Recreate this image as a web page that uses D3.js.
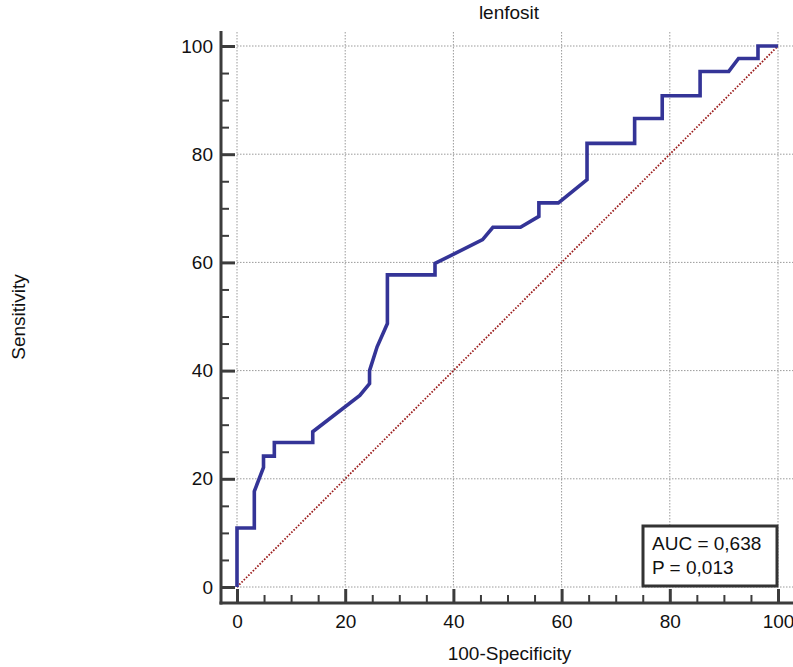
<!DOCTYPE html>
<html>
<head>
<meta charset="utf-8">
<script src="https://cdn.jsdelivr.net/npm/d3@7"></script>
<style>
  html, body { margin: 0; padding: 0; background: #fff; }
  svg text { font-family: "Liberation Sans", Arial, sans-serif; fill: #111; }
</style>
</head>
<body>
<svg id="chart" width="793" height="667"></svg>
<script>
// ROC curve for "lenfosit": 100-Specificity (x) vs Sensitivity (y)
const rocFpr = [0, 0, 3.2, 3.2, 4.9, 4.9, 6.9, 6.9, 14.0, 14.0, 22.7, 24.5, 24.5, 25.9, 27.8, 27.8,
  36.6, 36.6, 45.4, 47.3, 52.4, 55.8, 55.8, 59.4, 64.7, 64.7, 73.5, 73.5, 78.6, 78.6, 85.6, 85.6,
  90.9, 92.7, 96.3, 96.3, 100];
const rocTpr = [0, 10.9, 10.9, 17.7, 22.1, 24.2, 24.2, 26.7, 26.7, 28.7, 35.4, 37.6, 40.0, 44.4, 48.7, 57.7,
  57.7, 59.8, 64.2, 66.5, 66.5, 68.5, 71.0, 71.0, 75.3, 82.0, 82.0, 86.6, 86.6, 90.8, 90.8, 95.3,
  95.3, 97.7, 97.7, 100, 100];
const majorTicks = [0, 20, 40, 60, 80, 100];
const minorTicks = [5, 10, 15, 25, 30, 35, 45, 50, 55, 65, 70, 75, 85, 90, 95];
const chartTitle = "lenfosit";
const xTitle = "100-Specificity";
const yTitle = "Sensitivity";
const statsLines = ["AUC = 0,638", "P = 0,013"];

const W = 793, H = 667;
const svg = d3.select("#chart");

const x = d3.scaleLinear().domain([0, 100]).range([237, 778]);
const y = d3.scaleLinear().domain([0, 100]).range([587, 46]);

const axisX = 221;   // left axis position
const axisY = 603;   // bottom axis position
const topEdge = 31;

// dotted grid
const grid = svg.append("g");
grid.selectAll("line.h").data(majorTicks).join("line")
  .attr("x1", x(0)).attr("x2", W)
  .attr("y1", d => y(d)).attr("y2", d => y(d))
  .attr("stroke", "#9a9a9a").attr("stroke-width", 1).attr("stroke-dasharray", "1.5,1.5");
grid.selectAll("line.v").data(majorTicks).join("line")
  .attr("x1", d => x(d)).attr("x2", d => x(d))
  .attr("y1", topEdge + 1).attr("y2", y(0))
  .attr("stroke", "#9a9a9a").attr("stroke-width", 1).attr("stroke-dasharray", "1.5,1.5");

// reference diagonal
svg.append("line")
  .attr("x1", x(0)).attr("y1", y(0)).attr("x2", x(100)).attr("y2", y(100))
  .attr("stroke", "#9b1c1c").attr("stroke-width", 1.8).attr("stroke-dasharray", "1.6,1.6");

// ROC curve
const pts = rocFpr.map((f, i) => [f, rocTpr[i]]);
svg.append("path")
  .datum(pts)
  .attr("fill", "none")
  .attr("stroke", "#343497")
  .attr("stroke-width", 3.6)
  .attr("stroke-linejoin", "miter")
  .attr("d", d3.line().x(d => x(d[0])).y(d => y(d[1])));

// axes
const axisColor = "#3c3c3c";
function styleAxis(g, w) {
  g.select(".domain").remove();
  g.selectAll(".tick line").attr("stroke", axisColor).attr("stroke-width", w);
  g.selectAll(".tick text").attr("font-size", 19).attr("fill", "#111")
    .attr("font-family", '"Liberation Sans", Arial, sans-serif');
}

const yMajor = svg.append("g").attr("transform", `translate(${axisX},0)`)
  .call(d3.axisLeft(y).tickValues(majorTicks).tickSizeInner(-14).tickSizeOuter(0).tickPadding(8));
styleAxis(yMajor, 3);
const yMinor = svg.append("g").attr("transform", `translate(${axisX},0)`)
  .call(d3.axisLeft(y).tickValues(minorTicks).tickSizeInner(-8).tickSizeOuter(0).tickFormat(""));
styleAxis(yMinor, 2);

const xMajor = svg.append("g").attr("transform", `translate(0,${axisY})`)
  .call(d3.axisBottom(x).tickValues(majorTicks).tickSizeInner(-14).tickSizeOuter(0).tickPadding(12));
styleAxis(xMajor, 3);
const xMinor = svg.append("g").attr("transform", `translate(0,${axisY})`)
  .call(d3.axisBottom(x).tickValues(minorTicks).tickSizeInner(-8).tickSizeOuter(0).tickFormat(""));
styleAxis(xMinor, 2);

// axis lines
svg.append("line").attr("x1", axisX).attr("x2", axisX).attr("y1", topEdge).attr("y2", axisY + 1.5)
  .attr("stroke", axisColor).attr("stroke-width", 3);
svg.append("line").attr("x1", axisX - 1.5).attr("x2", W).attr("y1", axisY).attr("y2", axisY)
  .attr("stroke", axisColor).attr("stroke-width", 3);

// titles
svg.append("text").attr("x", 509).attr("y", 19).attr("text-anchor", "middle")
  .attr("font-size", 19).text(chartTitle);
svg.append("text").attr("x", 509.5).attr("y", 660).attr("text-anchor", "middle")
  .attr("font-size", 19).text(xTitle);
svg.append("text").attr("transform", "translate(25,317) rotate(-90)").attr("text-anchor", "middle")
  .attr("font-size", 19).text(yTitle);

// statistics box
const box = svg.append("g");
box.append("rect").attr("x", 643).attr("y", 526).attr("width", 134).attr("height", 60)
  .attr("fill", "#fff").attr("stroke", "#333").attr("stroke-width", 3);
box.selectAll("text").data(statsLines).join("text")
  .attr("x", 652).attr("y", (d, i) => 550 + i * 24)
  .attr("font-size", 19).text(d => d);
</script>
</body>
</html>
